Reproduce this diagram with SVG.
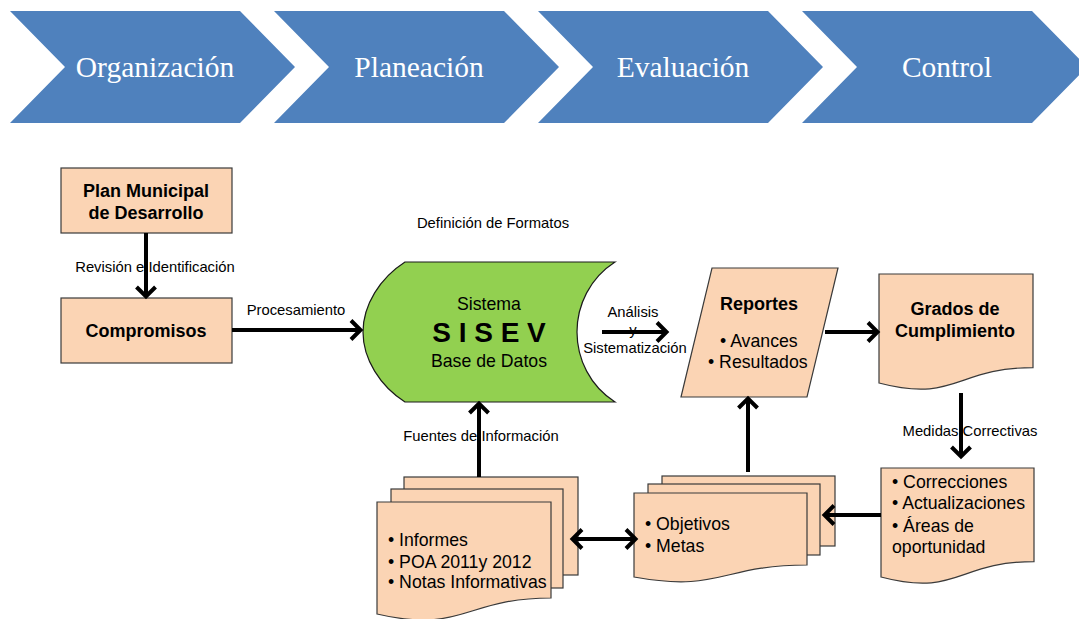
<svg xmlns="http://www.w3.org/2000/svg" width="1079" height="619" viewBox="0 0 1079 619">
<style>
.chev{fill:#4F81BD;stroke:none}
.ct{font-family:"Liberation Serif","Times New Roman",serif;font-size:29.5px;fill:#fff;text-anchor:middle}
.box{fill:#FBD4B4;stroke:#3a3a3a;stroke-width:1.2}
.db{fill:#92D050;stroke:#1a1a1a;stroke-width:1.2}
.bt{font-family:"Liberation Sans",Arial,sans-serif;font-size:18px;font-weight:bold;fill:#000;text-anchor:middle}
.t{font-family:"Liberation Sans",Arial,sans-serif;font-size:17.7px;fill:#000}
.tm{font-family:"Liberation Sans",Arial,sans-serif;font-size:17.7px;fill:#000;text-anchor:middle}
.lbl{font-family:"Liberation Sans",Arial,sans-serif;font-size:14.8px;fill:#000;text-anchor:middle}
.con{stroke:#000;stroke-width:4;fill:none}
</style>
<defs>
<marker id="ah" markerUnits="userSpaceOnUse" markerWidth="30" markerHeight="30" refX="10" refY="12" orient="auto-start-reverse" overflow="visible">
<path d="M1,2.5 L10.5,12 L1,21.5" fill="none" stroke="#000" stroke-width="4" stroke-linejoin="miter"/>
</marker>
</defs>

<g id="chevrons">
<g id="chev-organizacion"><path class="chev" d="M10,11 L240,11 L295,67 L240,123 L10,123 L65,67 Z"/><text class="ct" x="155" y="77">Organización</text></g>
<g id="chev-planeacion"><path class="chev" d="M274,11 L504,11 L559,67 L504,123 L274,123 L329,67 Z"/><text class="ct" x="419" y="77">Planeación</text></g>
<g id="chev-evaluacion"><path class="chev" d="M538,11 L768,11 L823,67 L768,123 L538,123 L593,67 Z"/><text class="ct" x="683" y="77">Evaluación</text></g>
<g id="chev-control"><path class="chev" d="M802,11 L1032,11 L1087,67 L1032,123 L802,123 L857,67 Z"/><text class="ct" x="947" y="77">Control</text></g>
</g>

<g id="plan">
<rect class="box" x="61" y="168" width="171" height="65"/>
<text class="bt" x="146" y="197">Plan Municipal</text>
<text class="bt" x="146" y="219">de Desarrollo</text>
</g>

<g id="compromisos">
<rect class="box" x="61" y="298" width="171" height="65"/>
<text class="bt" x="146" y="337">Compromisos</text>
</g>

<g id="sisev">
<path class="db" d="M405,262 L615,262 C590,278 577,305 577,332 C577,359 590,386 615,402 L405,402 C380,386 363,359 363,332 C363,305 380,278 405,262 Z"/>
<text class="tm" x="489" y="310">Sistema</text>
<text class="bt" x="489" y="342" style="font-size:28px">S I S E V</text>
<text class="tm" x="489" y="367">Base de Datos</text>
</g>

<g id="reportes">
<path class="box" d="M712,268 L838,268 L807,397 L681,397 Z"/>
<text class="bt" x="759" y="310">Reportes</text>
<text class="t" x="720" y="347">• Avances</text>
<text class="t" x="708" y="368">• Resultados</text>
</g>

<g id="grados">
<path class="box" d="M879,274 L1033,274 L1033,367.6 C956,367.6 956,403.2 879,383 Z"/>
<text class="bt" x="955" y="315">Grados de</text>
<text class="bt" x="955" y="337">Cumplimiento</text>
</g>

<g id="correcciones">
<path class="box" d="M881,468 L1034,468 L1034,561.6 C957.5,561.6 957.5,597.2 881,577 Z"/>
<text class="t" x="892" y="488">• Correcciones</text>
<text class="t" x="892" y="509">• Actualizaciones</text>
<text class="t" x="892" y="532">• Áreas de</text>
<text class="t" x="892" y="553">oportunidad</text>
</g>

<g id="objetivos">
<rect class="box" x="662" y="476" width="173" height="70"/>
<rect class="box" x="648" y="484" width="172" height="71"/>
<path class="box" d="M634,493 L807,493 L807,565 C720.5,565 720.5,592.7 634,577 Z"/>
<text class="t" x="645" y="530">• Objetivos</text>
<text class="t" x="645" y="552">• Metas</text>
</g>

<g id="informes">
<rect class="box" x="404" y="477" width="174" height="98"/>
<rect class="box" x="391" y="489" width="172" height="99"/>
<path class="box" d="M377,502 L551,502 L551,598 C464,598 464,634 377,614 Z"/>
<text class="t" x="388" y="546">• Informes</text>
<text class="t" x="388" y="568">• POA 2011y 2012</text>
<text class="t" x="388" y="588">• Notas Informativas</text>
</g>

<g id="connectors">
<text class="lbl" x="155" y="272">Revisión e Identificación</text>
<text class="lbl" x="296" y="315">Procesamiento</text>
<text class="lbl" x="493" y="228">Definición de Formatos</text>
<text class="lbl" x="633" y="317">Análisis</text>
<text class="lbl" x="633" y="335">y</text>
<text class="lbl" x="635" y="353">Sistematización</text>
<text class="lbl" x="970" y="436">Medidas Correctivas</text>
<text class="lbl" x="481" y="441">Fuentes de Información</text>
<line class="con" x1="146" y1="233" x2="146" y2="296" marker-end="url(#ah)"/>
<line class="con" x1="232" y1="330" x2="360" y2="330" marker-end="url(#ah)"/>
<line class="con" x1="602" y1="332" x2="666" y2="332" marker-end="url(#ah)"/>
<line class="con" x1="825" y1="332" x2="877" y2="332" marker-end="url(#ah)"/>
<line class="con" x1="961" y1="393" x2="961" y2="456" marker-end="url(#ah)"/>
<line class="con" x1="881" y1="515" x2="825" y2="515" marker-end="url(#ah)"/>
<line class="con" x1="748" y1="472" x2="748" y2="399" marker-end="url(#ah)"/>
<line class="con" x1="479" y1="477" x2="479" y2="404" marker-end="url(#ah)"/>
<line class="con" x1="573" y1="539" x2="635" y2="539" marker-start="url(#ah)" marker-end="url(#ah)"/>
</g>
</svg>
